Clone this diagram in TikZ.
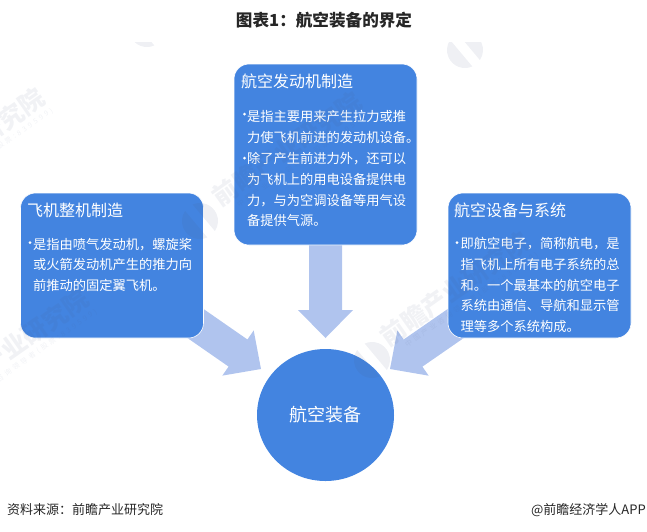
\documentclass[tikz,border=0pt]{standalone}
\usepackage{fontspec}
\usepackage{xcolor}
\setmainfont{Noto Sans CJK SC}
\usetikzlibrary{calc,backgrounds,shapes.geometric}

\definecolor{boxblue}{HTML}{4384E0}
\definecolor{arrowblue}{HTML}{B0C4EE}
\definecolor{markgrey}{HTML}{4A5A80}

\tikzset{
    infobox/.style={draw=white, line width=0.6pt, fill=boxblue, rounded corners=15pt, minimum width=183pt, minimum height=145pt, inner sep=0pt},
    boxhead/.style={anchor=west, inner sep=0pt, text=white, font=\fontsize{16}{18}\selectfont},
    boxbody/.style={anchor=north west, inner sep=0pt, align=left, text=white, font=\fontsize{13.25}{20.6}\selectfont},
    boxdot/.style={circle, fill=white, inner sep=0pt, minimum size=3pt},
    footnote/.style={inner sep=0pt, text=black!85, font=\fontsize{13}{15}\selectfont},
    markline/.style={inner sep=0pt, rotate=35, align=right, text=markgrey, text opacity=0.08}
}

% one block arrow, from #1 (hidden under a box) to its tip #2
\newcommand{\blockarrow}[2]{
    \coordinate (headbase) at ($(#2)!28pt!(#1)$);
    \fill[arrowblue] ($(#1)!16.5pt!90:(#2)$) -- ($(headbase)!16.5pt!90:(#2)$) -- ($(headbase)!27.5pt!90:(#2)$) -- (#2)
        -- ($(headbase)!27.5pt!-90:(#2)$) -- ($(headbase)!16.5pt!-90:(#2)$) -- ($(#1)!16.5pt!-90:(#2)$) -- cycle;
}
% watermark: text centred at #1,#2
\newcommand{\marktext}[2]{
    \node[markline] at (#1,#2) {{\fontsize{25}{27}\selectfont\bfseries 前瞻产业研究院}\\[-1pt]
        {\fontsize{7}{9}\addfontfeature{LetterSpace=40}\selectfont 中国产业咨询领导者(股票:839599)}};
}
% watermark: round logo centred at #1,#2
\newcommand{\marklogo}[2]{
    \fill[markgrey, opacity=0.09] (#1,#2) ++(246:18) arc [radius=18, start angle=246, end angle=394] -- cycle;
    \fill[markgrey, opacity=0.09] (#1,#2) ++(66:18) arc [radius=18, start angle=66, end angle=214] -- cycle;
}

\begin{document}
\begin{tikzpicture}[x=1pt, y=-1pt]
    \useasboundingbox (0,0) rectangle (647,531);

    \node[inner sep=0pt, font=\fontsize{16.6}{18}\selectfont\bfseries, text=black!85] (title) at (324,20) {图表1：航空装备的界定};

    % the three boxes and the circle
    \node[infobox, minimum height=181pt] (topbox) at (325.5,154.5) {};
    \node[infobox] (leftbox) at (112,265.5) {};
    \node[infobox] (rightbox) at (539.5,265.5) {};
    \node[ellipse, fill=boxblue, inner sep=0pt, minimum width=137pt, minimum height=132pt, text=white, font=\fontsize{18}{20}\selectfont] (core) at (325.5,415) {航空装备};

    % arrows go under the boxes
    \coordinate (toptip) at (325.5,338);
    \coordinate (lefttip) at (261,369);
    \coordinate (righttip) at (390,369);
    \begin{scope}[on background layer]
        \blockarrow{topbox.center}{toptip}
        \blockarrow{leftbox.center}{lefttip}
        \blockarrow{rightbox.center}{righttip}
    \end{scope}

    % top box
    \node[boxhead] (tophead) at (241,81) {航空发动机制造};
    \node[boxdot] at (244.5,114) {};
    \node[boxbody] (topbodya) at (247,110) {是指主要用来产生拉力或推\\力使飞机前进的发动机设备。};
    \node[boxdot] at (244.5,158) {};
    \node[boxbody] (topbodyb) at (247,152.5) {除了产生前进力外，还可以\\为飞机上的用电设备提供电\\力，与为空调设备等用气设\\备提供气源。};

    % left box
    \node[boxhead] (lefthead) at (27,210) {飞机整机制造};
    \node[boxdot] at (30,242.5) {};
    \node[boxbody] (leftbody) at (33,238) {是指由喷气发动机，螺旋桨\\或火箭发动机产生的推力向\\前推动的固定翼飞机。};

    % right box
    \node[boxhead] (righthead) at (454,210) {航空设备与系统};
    \node[boxdot] at (457,242.5) {};
    \node[boxbody] (rightbody) at (460.5,237.5) {即航空电子，简称航电，是\\指飞机上所有电子系统的总\\和。一个最基本的航空电子\\系统由通信、导航和显示管\\理等多个系统构成。};

    % source lines
    \node[footnote, anchor=west] (source) at (7,510) {资料来源：前瞻产业研究院};
    \node[footnote, anchor=east] (brand) at (646,510) {@前瞻经济学人APP};

    % watermarks
    \begin{scope}
        \clip (0,42) rectangle (647,500);
        \marktext{-27}{149}
        \marktext{17}{350}
        \marktext{290}{153}
        \marktext{458}{293}
        \marklogo{147}{29}
        \marklogo{200}{221}
        \marklogo{372}{360}
        \marklogo{465}{50}
    \end{scope}
\end{tikzpicture}
\end{document}
